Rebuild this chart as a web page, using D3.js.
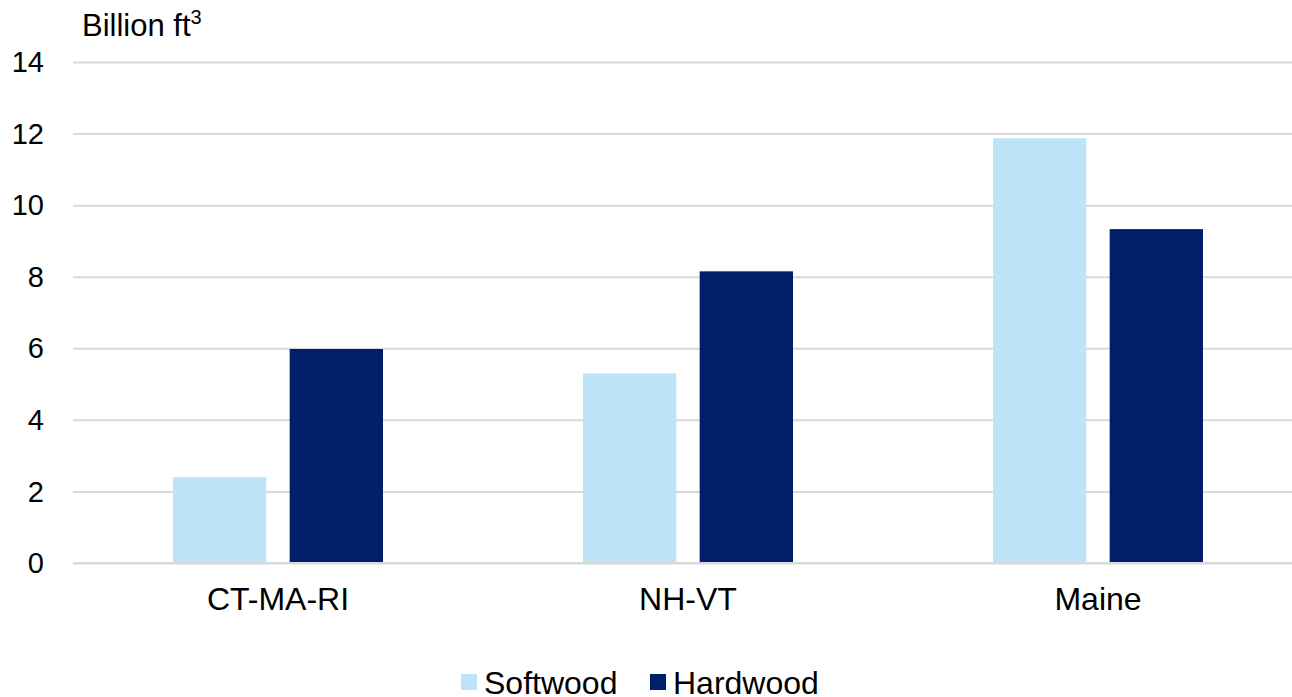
<!DOCTYPE html>
<html>
<head>
<meta charset="utf-8">
<script src="https://cdn.jsdelivr.net/npm/d3@7"></script>
<style>
  body { margin: 0; background: white; }
  text { font-family: "Liberation Sans", Arial, sans-serif; fill: #000; }
</style>
</head>
<body>
<script>
const regions = ['CT-MA-RI', 'NH-VT', 'Maine']
const seriesNames = ['Softwood', 'Hardwood']
const softwood = [2.4, 5.3, 11.87]
const hardwood = [5.98, 8.15, 9.33]
const yTicks = [0, 2, 4, 6, 8, 10, 12, 14]
const colors = ['#bde4f7', '#001f6b']

function main(){
    const width = 1292, height = 697
    let svg = d3.select('body')
        .append('svg')
        .attr('width', width)
        .attr('height', height)
        .attr('style', 'background-color: white')

    let yScale = d3.scaleLinear()
        .domain([0, 14])
        .range([563, 62])

    let x0 = d3.scaleBand()
        .domain(regions)
        .range([73, 1303])
        .paddingInner(0.4878)
        .paddingOuter(0.2439)

    let x1 = d3.scaleBand()
        .domain(seriesNames)
        .range([0, x0.bandwidth()])
        .paddingInner(0.2)

    // gridlines
    let yAxis = svg.append('g')
        .attr('transform', 'translate(73,0)')
        .call(d3.axisLeft(yScale).tickValues(yTicks).tickSize(-(width - 73)).tickFormat(''))
    yAxis.select('.domain').remove()
    yAxis.selectAll('line').attr('stroke', '#d9d9d9').attr('stroke-width', 2)

    svg.append('g').selectAll('text')
        .data(yTicks)
        .enter()
        .append('text')
        .attr('x', 44)
        .attr('y', d => yScale(d))
        .attr('dy', '0.35em')
        .attr('text-anchor', 'end')
        .attr('font-size', '29px')
        .text(d => d)

    let rows = regions.map((r, i) => ({region: r, values: [softwood[i], hardwood[i]]}))

    let groups = svg.append('g').selectAll('g')
        .data(rows)
        .enter()
        .append('g')
        .attr('transform', d => `translate(${x0(d.region)},0)`)

    groups.selectAll('rect')
        .data(d => d.values.map((v, j) => ({name: seriesNames[j], value: v, j: j})))
        .enter()
        .append('rect')
        .attr('x', d => x1(d.name))
        .attr('y', d => yScale(d.value))
        .attr('width', x1.bandwidth())
        .attr('height', d => yScale(0) - yScale(d.value))
        .attr('fill', d => colors[d.j])

    // baseline redrawn on top of bars
    svg.append('line')
        .attr('x1', 73)
        .attr('x2', width)
        .attr('y1', yScale(0))
        .attr('y2', yScale(0))
        .attr('stroke', '#d9d9d9')
        .attr('stroke-width', 2)

    svg.append('g').selectAll('text')
        .data(regions)
        .enter()
        .append('text')
        .attr('x', d => x0(d) + x0.bandwidth() / 2)
        .attr('y', 610)
        .attr('text-anchor', 'middle')
        .attr('font-size', '32px')
        .text(d => d)

    let title = svg.append('text')
        .attr('x', 82)
        .attr('y', 36)
        .attr('font-size', '31px')
        .text('Billion ft')
    title.append('tspan')
        .attr('dy', -12)
        .attr('font-size', '20px')
        .text('3')

    // legend
    let legendX = [461, 650]
    let legend = svg.append('g').selectAll('g')
        .data(seriesNames)
        .enter()
        .append('g')
        .attr('transform', (d, i) => `translate(${legendX[i]},674)`)
    legend.append('rect')
        .attr('width', 16)
        .attr('height', 16)
        .attr('fill', (d, i) => colors[i])
    legend.append('text')
        .attr('x', 23)
        .attr('y', 20)
        .attr('font-size', '32px')
        .text(d => d)
}

main()
</script>
</body>
</html>
